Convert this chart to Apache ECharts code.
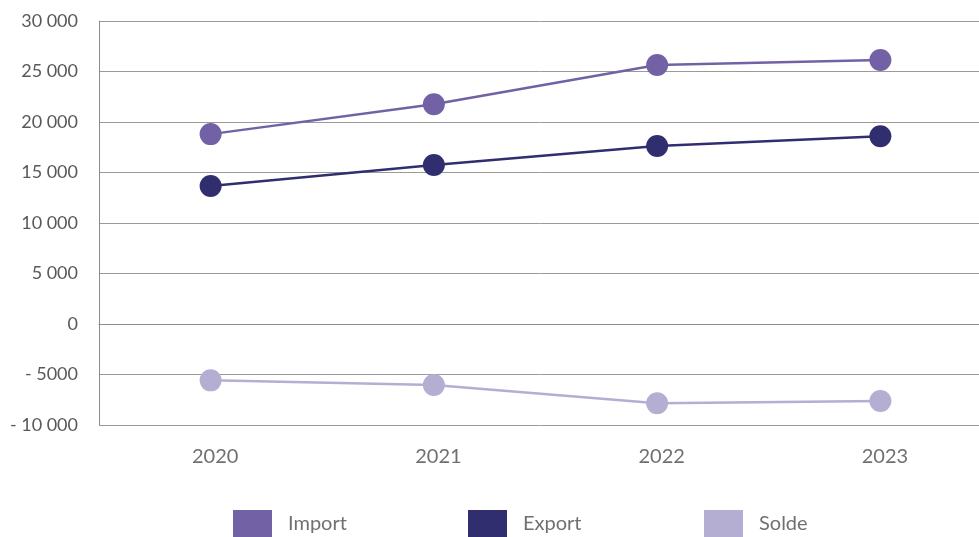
<!DOCTYPE html>
<html>
<head>
<meta charset="utf-8">
<script src="https://cdn.jsdelivr.net/npm/echarts@6/dist/echarts.min.js"></script>
<style>
html,body{margin:0;padding:0;background:#fff;}
#chart{width:979px;height:537px;}
</style>
</head>
<body>
<div id="chart"></div>
<script>
var categories = ["2020", "2021", "2022", "2023"];
var importValues = [18800, 21750, 25640, 26140];
var exportValues = [13660, 15740, 17620, 18580];
var soldeValues = [-5580, -6040, -7850, -7620];
var yTickValues = [-10000, -5000, 0, 5000, 10000, 15000, 20000, 25000, 30000];
var yTickLabels = ["- 10 000", "- 5000", "0", "5 000", "10 000", "15 000", "20 000", "25 000", "30 000"];
var seriesNames = ["Import", "Export", "Solde"];
var colors = ["#7262a5", "#302e6f", "#b4aed2"];

var chart = echarts.init(document.getElementById('chart'), null, {renderer: 'canvas'});
var font = 'Lato, "Open Sans", sans-serif';
var values = [importValues, exportValues, soldeValues];
var legendLeft = [233, 468, 704];

chart.setOption({
  animation: false,
  backgroundColor: '#ffffff',
  grid: {left: 99, width: 893, top: 21, height: 404, containLabel: false, outerBoundsMode: 'none'},
  legend: seriesNames.map(function (n, i) {
    return {
      data: [n], left: legendLeft[i], top: 510, padding: 0,
      itemWidth: 39, itemHeight: 27, icon: 'rect',
      textStyle: {fontFamily: font, fontSize: 20, color: '#707070', padding: [3, 0, 0, 11]}
    };
  }),
  xAxis: {
    type: 'category', data: categories, boundaryGap: true,
    axisTick: {show: false},
    axisLine: {show: true, lineStyle: {color: '#8c8c8c', width: 1}},
    axisLabel: {fontFamily: font, fontSize: 20, color: '#707070', margin: 22, padding: [0, 0, 0, 9]}
  },
  yAxis: {
    type: 'value', min: -10000, max: 30000, interval: 5000,
    axisLine: {show: true, lineStyle: {color: '#8c8c8c', width: 1}},
    axisTick: {show: false},
    splitLine: {show: true, lineStyle: {color: '#9a9a9a', width: 1}},
    axisLabel: {
      fontFamily: font, fontSize: 18, color: '#595959', margin: 21,
      formatter: function (v) {
        var i = yTickValues.indexOf(v);
        return i >= 0 ? yTickLabels[i] : '';
      }
    }
  },
  series: seriesNames.map(function (n, i) {
    return {
      name: n, type: 'line', data: values[i],
      symbol: 'circle', symbolSize: 22,
      itemStyle: {color: colors[i]},
      lineStyle: {color: colors[i], width: 2.5}
    };
  })
});
</script>
</body>
</html>
